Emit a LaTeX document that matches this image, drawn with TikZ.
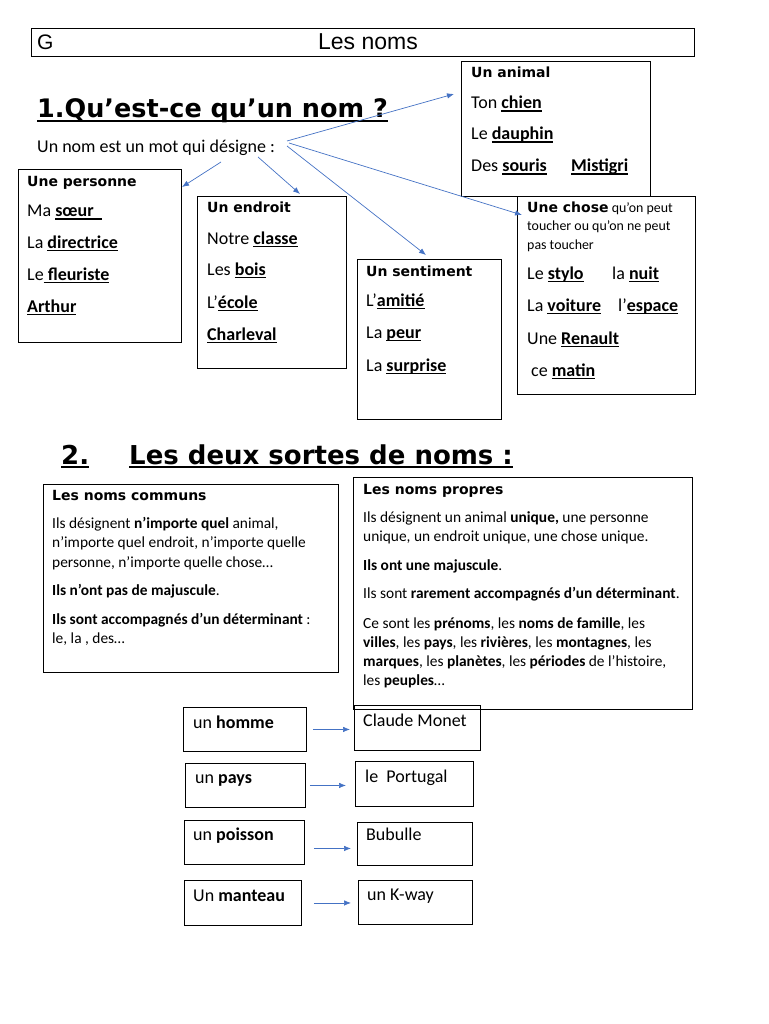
\documentclass[tikz,border=0pt]{standalone}
\usepackage{fontspec}
\setmainfont{Carlito}
\newfontfamily\verd{DejaVu Sans}
\newfontfamily\arialf{Liberation Sans}
\usetikzlibrary{arrows.meta,calc,positioning}
\definecolor{arrc}{RGB}{68,114,196}
\newcommand\ulb[1]{\setbox0\hbox{\bfseries #1}\rlap{\rule[-2.8pt]{\wd0}{1.3pt}}\box0}
\newcommand\ulh[1]{\setbox0\hbox{#1}\rlap{\rule[-4pt]{\wd0}{1.7pt}}\box0}

\begin{document}
\begin{tikzpicture}[x=1pt,y=-1pt,
  card/.style={draw,line width=0.9pt,anchor=north west,inner sep=0pt},
  boxhead/.style={font=\verd\bfseries\fontsize{14}{17}\selectfont,anchor=base west,inner sep=0pt},
  item/.style={font=\fontsize{18}{21}\selectfont,anchor=base west,inner sep=0pt},
  small/.style={font=\fontsize{15.4}{18}\selectfont,anchor=base west,inner sep=0pt},
  heading/.style={font=\verd\bfseries\fontsize{25.5}{30}\selectfont,anchor=base west,inner sep=0pt},
  fan/.style={arrc,line width=0.7pt,-{Latex[length=7pt,width=5.5pt]}}]
  \useasboundingbox (0,0) rectangle (768,1024);

  % title bar
  \node[card,minimum width=663,minimum height=28] (bar) at (31,28) {};
  \node[anchor=base west,inner sep=0pt,font=\arialf\fontsize{21}{24}\selectfont] (g) at (37,50) {G};
  \node[anchor=base,inner sep=0pt,font=\arialf\fontsize{23}{26}\selectfont] (titre) at (368,50) {Les noms};

  % part 1
  \node[heading] (h1) at (37,118) {\ulh{1.Qu’est-ce qu’un nom ?}};
  \node[anchor=base west,inner sep=0pt,font=\fontsize{18}{21}\selectfont] (def) at (37,153) {Un nom est un mot qui désigne :};

  \node[card,minimum width=189,minimum height=135] (animal) at (461,61) {};
  \node[boxhead] (an0) at (471,78) {Un animal};
  \node[item] (an1) at (471,109) {Ton \ulb{chien}};
  \node[item] (an2) at (471,140) {Le \ulb{dauphin}};
  \node[item] (an3) at (471,172) {Des \ulb{souris}};
  \node[item] (an4) at (571,172) {\ulb{Mistigri}};

  \node[card,minimum width=163,minimum height=173] (personne) at (18,169) {};
  \node[boxhead] (pe0) at (27,187) {Une personne};
  \node[item] (pe1) at (27,217) {Ma \ulb{sœur\ \ }};
  \node[item] (pe2) at (27,248) {La \ulb{directrice}};
  \node[item] (pe3) at (27,280) {Le\ulb{\ fleuriste}};
  \node[item] (pe4) at (27,312) {\ulb{Arthur}};

  \node[card,minimum width=149,minimum height=172] (endroit) at (197,196) {};
  \node[boxhead] (en0) at (207,213) {Un endroit};
  \node[item] (en1) at (207,244) {Notre \ulb{classe}};
  \node[item] (en2) at (207,275) {Les \ulb{bois}};
  \node[item] (en3) at (207,308) {L’\ulb{école}};
  \node[item] (en4) at (207,340) {\ulb{Charleval}};

  \node[card,minimum width=144,minimum height=160] (sentiment) at (357,259) {};
  \node[boxhead] (se0) at (366,276) {Un sentiment};
  \node[item] (se1) at (366,306) {L’\ulb{amitié}};
  \node[item] (se2) at (366,338) {La \ulb{peur}};
  \node[item] (se3) at (366,371) {La \ulb{surprise}};

  \node[card,minimum width=178,minimum height=198] (chose) at (517,196) {};
  \node[small,font=\fontsize{13.9}{16}\selectfont] (ch0) at (527,213) {{\verd\bfseries\fontsize{14}{17}\selectfont Une chose} qu’on peut};
  \node[small,font=\fontsize{13.9}{16}\selectfont] (ch1) at (527,231) {toucher ou qu’on ne peut};
  \node[small,font=\fontsize{13.9}{16}\selectfont] (ch2) at (527,249) {pas toucher};
  \node[item] (ch3) at (527,279) {Le \ulb{stylo}};
  \node[item] (ch4) at (612,279) {la \ulb{nuit}};
  \node[item] (ch5) at (527,311) {La \ulb{voiture}};
  \node[item] (ch6) at (618,311) {l’\ulb{espace}};
  \node[item] (ch7) at (527,344) {Une \ulb{Renault}};
  \node[item] (ch8) at (531,376) {ce \ulb{matin}};

  % arrows from the definition
  \coordinate (fanA) at (287,141);
  \coordinate (fanB) at (289,143);
  \coordinate (fanC) at (287,146);
  \coordinate (fanD) at (258,157);
  \coordinate (fanE) at (221,162);
  \coordinate (toAnimal) at (454,94);
  \coordinate (toChose) at (522,215);
  \coordinate (toSentiment) at (426,255);
  \coordinate (toEndroit) at (300,194);
  \coordinate (toPersonne) at (182,187);
  \draw[fan] (fanA) -- (toAnimal);
  \draw[fan] (fanB) -- (toChose);
  \draw[fan] (fanC) -- (toSentiment);
  \draw[fan] (fanD) -- (toEndroit);
  \draw[fan] (fanE) -- (toPersonne);

  % part 2
  \node[heading,font=\verd\bfseries\fontsize{26}{30}\selectfont] (h2a) at (61,464) {\ulh{2.}};
  \node[heading,font=\verd\bfseries\fontsize{26}{30}\selectfont] (h2b) at (129,464) {\ulh{Les deux sortes de noms :}};

  \node[card,minimum width=295,minimum height=188] (communs) at (43,484) {};
  \node[boxhead] (co0) at (52,500) {Les noms communs};
  \node[small] (co1) at (52,528) {Ils désignent \textbf{n’importe quel} animal,};
  \node[small] (co2) at (52,547) {n’importe quel endroit, n’importe quelle};
  \node[small] (co3) at (52,567) {personne, n’importe quelle chose…};
  \node[small] (co4) at (52,595) {\textbf{Ils n’ont pas de majuscule}.};
  \node[small] (co5) at (52,624) {\textbf{Ils sont accompagnés d’un déterminant} :};
  \node[small] (co6) at (52,643) {le, la , des…};

  \node[card,minimum width=339,minimum height=232] (propres) at (353,477) {};
  \node[boxhead] (pr0) at (363,494) {Les noms propres};
  \node[small] (pr1) at (363,522) {Ils désignent un animal \textbf{unique,} une personne};
  \node[small] (pr2) at (363,541) {unique, un endroit unique, une chose unique.};
  \node[small] (pr3) at (363,570) {\textbf{Ils ont une majuscule}.};
  \node[small] (pr4) at (363,598) {Ils sont \textbf{rarement accompagnés d’un déterminant}.};
  \node[small] (pr5) at (363,628) {Ce sont les \textbf{prénoms}, les \textbf{noms de famille}, les};
  \node[small] (pr6) at (363,647) {\textbf{villes}, les \textbf{pays}, les \textbf{rivières}, les \textbf{montagnes}, les};
  \node[small] (pr7) at (363,666) {\textbf{marques}, les \textbf{planètes}, les \textbf{périodes} de l’histoire,};
  \node[small] (pr8) at (363,685) {les \textbf{peuples}…};

  % examples
  \node[card,minimum width=123,minimum height=44] (homme) at (183,707) {};
  \node[card,minimum width=126,minimum height=45] (monet) at (354,705) {};
  \node[card,minimum width=120,minimum height=44] (pays) at (185,763) {};
  \node[card,minimum width=118,minimum height=45] (portugal) at (355,761) {};
  \node[card,minimum width=120,minimum height=44] (poisson) at (184,820) {};
  \node[card,minimum width=115,minimum height=43] (bubulle) at (357,822) {};
  \node[card,minimum width=117,minimum height=45] (manteau) at (184,880) {};
  \node[card,minimum width=114,minimum height=44] (kway) at (358,880) {};

  \node[item] (t1) at (193,728) {un \textbf{homme}};
  \node[item] (t2) at (363,726) {Claude Monet};
  \node[item] (t3) at (195,783) {un \textbf{pays}};
  \node[item] (t4) at (365,782) {le\ \ Portugal};
  \node[item] (t5) at (193,840) {un \textbf{poisson}};
  \node[item] (t6) at (366,840) {Bubulle};
  \node[item] (t7) at (193,901) {Un \textbf{manteau}};
  \node[item] (t8) at (367,900) {un K-way};

  \draw[fan,shorten <=6pt,shorten >=4pt] (homme.east) -- (homme.east -| monet.west);
  \draw[fan,shorten <=4pt,shorten >=9pt] (pays.east) -- (pays.east -| portugal.west);
  \draw[fan,shorten <=9pt,shorten >=6pt] ([yshift=-6pt]poisson.east) -- ([yshift=-6pt]poisson.east -| bubulle.west);
  \draw[fan,shorten <=12pt,shorten >=7pt] (manteau.east) -- (manteau.east -| kway.west);
\end{tikzpicture}
\end{document}
